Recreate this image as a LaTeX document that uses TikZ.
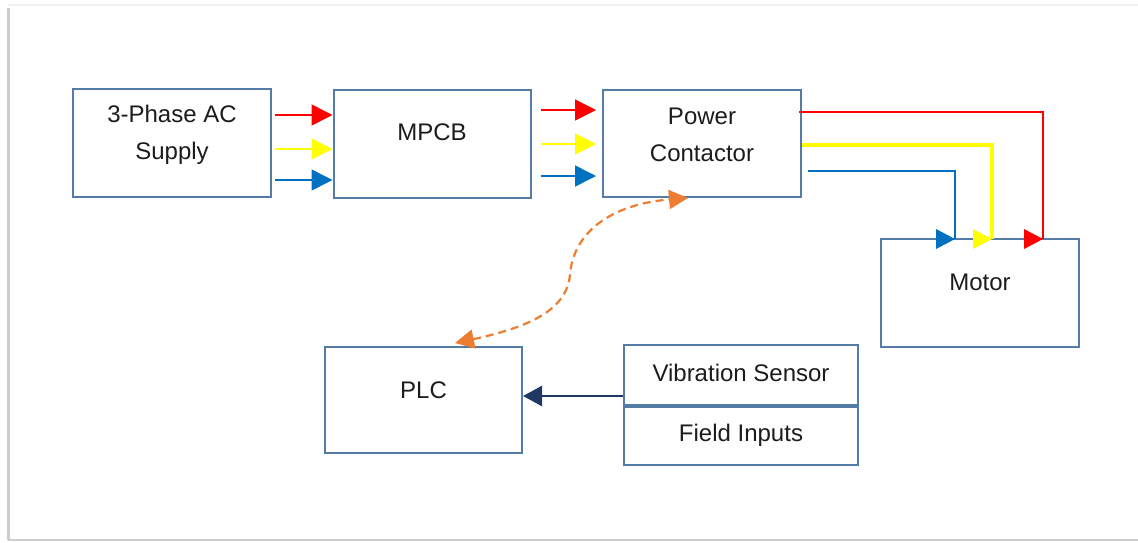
\documentclass[tikz,border=0pt]{standalone}
\usepackage{fontspec}
\setmainfont{Liberation Sans}
\usetikzlibrary{arrows.meta}
\definecolor{boxc}{RGB}{84,124,166}
\definecolor{txtc}{RGB}{28,28,28}
\definecolor{phR}{RGB}{255,0,0}
\definecolor{phY}{RGB}{255,255,0}
\definecolor{phB}{RGB}{0,112,192}
\definecolor{orng}{RGB}{237,125,49}
\definecolor{navy}{RGB}{31,56,100}
\tikzset{
  x=1pt, y=-1pt,
  box/.style={draw=boxc, line width=2pt, fill=white, inner sep=0pt},
  txt/.style={text=txtc, font=\fontsize{24}{37}\selectfont, align=center, inner sep=0pt},
  wire/.style={line width=1.6pt, -{Triangle[length=21pt,width=21pt]}},
  sig/.style={orng, line width=2.2pt, dash pattern=on 8pt off 5pt,
     {Triangle[length=19pt,width=19pt]}-{Triangle[length=19pt,width=19pt]}},
}
\begin{document}
\begin{tikzpicture}
\useasboundingbox (0,0) rectangle (1138,542);
% card frame
\draw[gray!12, line width=1.5pt] (8,5) -- (1138,5);
\draw[gray!40, line width=3pt] (8,8) -- (8,540);
\draw[gray!40, line width=2pt] (8,540) -- (1138,540);

% boxes
\node[box, minimum width=198pt, minimum height=108pt] (supply) at (172,143) {};
\node[txt] (supplyT) at (172,135) {3-Phase AC\\Supply};
\node[box, minimum width=197pt, minimum height=108pt] (mpcb) at (432,144) {};
\node[txt] (mpcbT) at (432,132) {MPCB};
\node[box, minimum width=198pt, minimum height=107pt] (pc) at (702,143.5) {};
\node[txt] (pcT) at (702,135) {Power\\Contactor};
\node[box, minimum width=198pt, minimum height=108pt] (motor) at (980,293) {};
\node[txt] (motorT) at (980,282) {Motor};
\node[box, minimum width=197pt, minimum height=106pt] (plc) at (423.5,400) {};
\node[txt] (plcT) at (423.5,390) {PLC};
\node[box, minimum width=234pt, minimum height=60pt] (vib) at (741,375) {};
\node[txt] (vibT) at (741,373) {Vibration Sensor};
\node[box, minimum width=234pt, minimum height=58pt] (field) at (741,436) {};
\node[txt] (fieldT) at (741,435) {Field Inputs};

% supply -> MPCB
\draw[wire, phR, shorten <=3pt] (supply.east |- 0,115) -- (mpcb.west |- 0,115);
\draw[wire, phY, shorten <=3pt] (supply.east |- 0,149) -- (mpcb.west |- 0,149);
\draw[wire, phB, shorten <=3pt] (supply.east |- 0,180) -- (mpcb.west |- 0,180);
% MPCB -> power contactor
\draw[wire, phR, shorten <=9pt] (mpcb.east |- 0,110) -- ([xshift=-6pt]pc.west |- 0,110);
\draw[wire, phY, shorten <=9pt] (mpcb.east |- 0,144) -- ([xshift=-6pt]pc.west |- 0,144);
\draw[wire, phB, shorten <=9pt] (mpcb.east |- 0,176) -- ([xshift=-6pt]pc.west |- 0,176);

% power contactor -> motor
\coordinate (rT) at (1043,239);
\coordinate (yT) at (992,239);
\coordinate (bT) at (955,239);
\draw[phR, line width=2pt] ([xshift=-3pt]pc.east |- 0,112) -- (rT |- 0,112) -- (rT);
\draw[phY, line width=3.4pt] (pc.east |- 0,145) -- (yT |- 0,145) -- (yT);
\draw[phB, line width=2pt] ([xshift=6pt]pc.east |- 0,171) -- (bT |- 0,171) -- (bT);
\fill[phR] (rT) -- ++(-19,-10) -- ++(0,20) -- cycle;
\fill[phY] (yT) -- ++(-19,-10) -- ++(0,20) -- cycle;
\fill[phB] (bT) -- ++(-19,-10) -- ++(0,20) -- cycle;

% PLC <-> power contactor
\coordinate (plcS) at (455,343);
\coordinate (pcS) at (688,198);
\draw[sig] (plcS) .. controls (540,325) and (567,305) .. (570,275)
  .. controls (573,232) and (612,204) .. (pcS);

% vibration sensor -> PLC
\draw[navy, line width=2.5pt, -{Triangle[length=19pt,width=20pt]}]
  (vib.west |- 0,396) -- (plc.east |- 0,396);
\end{tikzpicture}
\end{document}
